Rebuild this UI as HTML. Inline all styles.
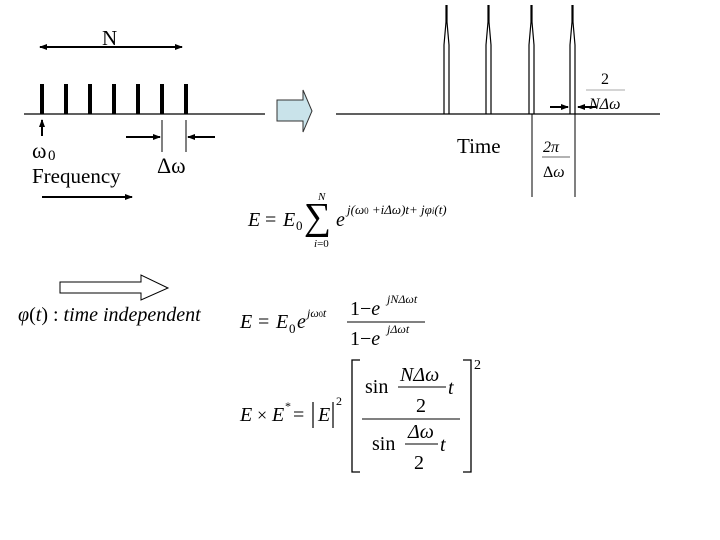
<!DOCTYPE html>
<html><head><meta charset="utf-8"><style>
html,body{margin:0;padding:0;background:#fff}
svg{display:block}
text{font-family:"Liberation Serif",serif;fill:#000}
.i{font-style:italic}
</style></head><body>
<svg width="720" height="540" viewBox="0 0 720 540" xmlns="http://www.w3.org/2000/svg">
<defs>
<marker id="a" markerWidth="8" markerHeight="8" refX="7" refY="4" orient="auto" markerUnits="userSpaceOnUse"><path d="M0,1 L8,4 L0,7z" fill="#000"/></marker>
</defs>
<line x1="42" y1="47" x2="182" y2="47" stroke="#000" stroke-width="2" marker-end="url(#a)"/>
<line x1="180" y1="47" x2="40" y2="47" stroke="#000" stroke-width="2" marker-end="url(#a)"/>
<text x="102" y="45" font-size="21">N</text>
<line x1="24" y1="114" x2="265" y2="114" stroke="#000" stroke-width="1.2"/>
<g stroke="#000" stroke-width="4">
<line x1="42" y1="84" x2="42" y2="114"/><line x1="66" y1="84" x2="66" y2="114"/><line x1="90" y1="84" x2="90" y2="114"/><line x1="114" y1="84" x2="114" y2="114"/><line x1="138" y1="84" x2="138" y2="114"/><line x1="162" y1="84" x2="162" y2="114"/><line x1="186" y1="84" x2="186" y2="114"/>
</g>
<line x1="42" y1="136" x2="42" y2="120" stroke="#000" stroke-width="2" marker-end="url(#a)"/>
<text x="32" y="158" font-size="22">ω</text><text x="48" y="160" font-size="15">0</text>
<text x="32" y="183" font-size="21">Frequency</text>
<line x1="42" y1="197" x2="132" y2="197" stroke="#000" stroke-width="2" marker-end="url(#a)"/>
<line x1="162" y1="120" x2="162" y2="152" stroke="#000" stroke-width="1"/>
<line x1="186" y1="120" x2="186" y2="152" stroke="#000" stroke-width="1"/>
<line x1="126" y1="137" x2="160" y2="137" stroke="#000" stroke-width="2" marker-end="url(#a)"/>
<line x1="215" y1="137" x2="188" y2="137" stroke="#000" stroke-width="2" marker-end="url(#a)"/>
<text x="157" y="173" font-size="22">Δω</text>
<path d="M277,100 L303,100 L303,90 L312,111 L303,132 L303,121 L277,121 Z" fill="#c9e3ea" stroke="#333" stroke-width="1"/>
<line x1="336" y1="114" x2="660" y2="114" stroke="#000" stroke-width="1.2"/>
<g fill="none" stroke="#000" stroke-width="1.2">
<path d="M444,114 L444,45 L446,22 L446,5 M449,114 L449,45 L447,22 L447,5"/>
<path d="M486,114 L486,45 L488,22 L488,5 M491,114 L491,45 L489,22 L489,5"/>
<path d="M529,114 L529,45 L531,22 L531,5 M534,114 L534,45 L532,22 L532,5"/>
<path d="M570,114 L570,45 L572,22 L572,5 M575,114 L575,45 L573,22 L573,5"/>
</g>
<line x1="532" y1="114" x2="532" y2="197" stroke="#000" stroke-width="1"/>
<line x1="575" y1="114" x2="575" y2="197" stroke="#000" stroke-width="1"/>
<text x="457" y="153" font-size="21">Time</text>
<text x="543" y="152" font-size="16" class="i">2π</text>
<line x1="542" y1="157" x2="570" y2="157" stroke="#666" stroke-width="1"/>
<text x="543" y="177" font-size="16">Δ<tspan class="i">ω</tspan></text>
<text x="601" y="84" font-size="16" fill="#555">2</text>
<line x1="586" y1="90" x2="625" y2="90" stroke="#aaa" stroke-width="1"/>
<text x="589" y="109" font-size="16" class="i">NΔω</text>
<line x1="550" y1="107" x2="568" y2="107" stroke="#000" stroke-width="2" marker-end="url(#a)"/>
<line x1="596" y1="107" x2="578" y2="107" stroke="#000" stroke-width="2" marker-end="url(#a)"/>
<text x="248" y="226" font-size="20" class="i">E</text><text x="265" y="226" font-size="20">=</text><text x="283" y="226" font-size="20" class="i">E</text><text x="296" y="230" font-size="13">0</text>
<text x="304" y="229" font-size="38">∑</text>
<text x="318" y="200" font-size="11" class="i">N</text>
<text x="314" y="247" font-size="11" class="i">i<tspan font-style="normal">=0</tspan></text>
<text x="336" y="226" font-size="20" class="i">e</text>
<text x="347" y="214" font-size="13" class="i">j(ω<tspan font-size="9" font-style="normal">0</tspan> +iΔω)t+ jφ<tspan font-size="9">i</tspan>(t)</text>
<text x="240" y="328" font-size="20" class="i">E</text><text x="258" y="328" font-size="20">=</text><text x="276" y="328" font-size="20" class="i">E</text><text x="289" y="333" font-size="13">0</text>
<text x="297" y="328" font-size="20" class="i">e</text><text x="307" y="317" font-size="12" class="i">jω<tspan font-size="8" font-style="normal">0</tspan>t</text>
<text x="350" y="315" font-size="20">1−<tspan class="i">e</tspan></text><text x="387" y="303" font-size="12" class="i">jNΔωt</text>
<line x1="347" y1="322" x2="425" y2="322" stroke="#000" stroke-width="1"/>
<text x="350" y="345" font-size="20">1−<tspan class="i">e</tspan></text><text x="387" y="333" font-size="12" class="i">jΔωt</text>
<text x="240" y="421" font-size="20" class="i">E</text><text x="257" y="421" font-size="18">×</text><text x="272" y="421" font-size="20" class="i">E</text><text x="285" y="410" font-size="12">*</text>
<text x="293" y="421" font-size="20">=</text>
<line x1="313" y1="402" x2="313" y2="428" stroke="#000" stroke-width="1.2"/>
<text x="318" y="421" font-size="20" class="i">E</text>
<line x1="333" y1="402" x2="333" y2="428" stroke="#000" stroke-width="1.2"/>
<text x="336" y="405" font-size="12">2</text>
<path d="M360,360 L352,360 L352,472 L360,472" fill="none" stroke="#000" stroke-width="1.3"/>
<path d="M463,360 L471,360 L471,472 L463,472" fill="none" stroke="#000" stroke-width="1.3"/>
<text x="474" y="369" font-size="14">2</text>
<text x="365" y="393" font-size="20">sin</text>
<text x="400" y="381" font-size="20" class="i">NΔω</text>
<line x1="398" y1="387" x2="446" y2="387" stroke="#000" stroke-width="1"/>
<text x="416" y="412" font-size="20">2</text>
<text x="448" y="394" font-size="20" class="i">t</text>
<line x1="362" y1="419" x2="460" y2="419" stroke="#000" stroke-width="1"/>
<text x="372" y="450" font-size="20">sin</text>
<text x="408" y="438" font-size="20" class="i">Δω</text>
<line x1="405" y1="444" x2="438" y2="444" stroke="#000" stroke-width="1"/>
<text x="414" y="469" font-size="20">2</text>
<text x="440" y="451" font-size="20" class="i">t</text>
<path d="M60,282 L141,282 L141,275 L168,288 L141,300 L141,293 L60,293 Z" fill="#fff" stroke="#000" stroke-width="1"/>
<text x="18" y="321" font-size="20" class="i">φ<tspan font-style="normal">(</tspan>t<tspan font-style="normal">) :</tspan> time independent</text>
</svg>
</body></html>
